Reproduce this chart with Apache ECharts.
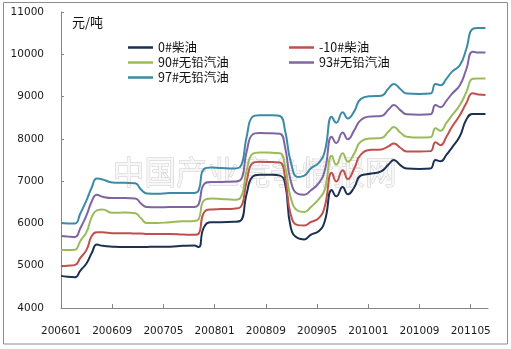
<!DOCTYPE html>
<html>
<head>
<meta charset="utf-8">
<script src="https://cdn.jsdelivr.net/npm/echarts@6/dist/echarts.min.js"></script>
<style>
html,body{margin:0;padding:0;background:#fff;}
#chart{width:511px;height:349px;}
</style>
</head>
<body>
<div id="chart"></div>
<script>
// x positions: months since 2006-01
var monthPos = [0, 1, 2.2, 3, 4, 4.8, 5.6, 6.5, 8, 10, 11.6, 12.5, 13.4, 15, 17, 19, 20.8, 21.5, 22.3, 23.5, 25, 27, 28, 29, 29.9, 31, 33, 34.2, 35, 35.9, 37, 38, 39, 40.3, 41.2, 42.3, 43, 44, 44.8, 45.8, 46.8, 48.5, 50, 51.2, 52, 53, 54, 56, 57.7, 58.5, 59.3, 60.2, 61.1, 62.3, 63.3, 64.3, 65.2, 66.3];
var tickLabels = ['200601','200609','200705','200801','200809','200905','201001','201009','201105'];
var seriesNames = ['0#柴油','-10#柴油','90#无铅汽油','93#无铅汽油','97#无铅汽油'];

var diesel0 = [4760,4740,4730,4880,5060,5300,5500,5470,5450,5440,5440,5440,5445,5450,5450,5470,5480,5440,5900,6030,6030,6040,6060,6700,7100,7150,7150,7130,6950,5900,5650,5620,5730,5820,6050,6790,6640,6860,6690,6850,7130,7180,7230,7400,7500,7380,7300,7290,7300,7500,7470,7620,7800,8060,8450,8590,8590,8590];
var dieselM10 = [4990,5000,5020,5180,5380,5700,5790,5790,5770,5770,5760,5760,5750,5750,5750,5740,5730,5760,6250,6330,6340,6350,6380,7000,7420,7460,7450,7440,7100,6200,5960,5950,6030,6130,6400,7200,6990,7260,7050,7300,7620,7740,7750,7830,7890,7790,7700,7700,7710,7920,7850,8050,8290,8560,8840,9080,9050,9040];
var gas90 = [5370,5370,5380,5580,5800,6150,6310,6330,6250,6260,6240,6120,6010,6010,6030,6050,6060,6100,6540,6590,6580,6560,6600,7250,7640,7680,7670,7660,7350,6600,6300,6270,6380,6580,6800,7600,7390,7660,7460,7650,7930,8010,8020,8180,8280,8150,8050,8030,8040,8250,8190,8380,8560,8800,9100,9420,9430,9430];
var gas93 = [5700,5690,5680,5880,6200,6520,6680,6630,6600,6600,6590,6470,6390,6380,6390,6390,6390,6450,6920,6980,6980,6990,7020,7700,8100,8140,8130,8120,7800,7000,6700,6680,6780,6960,7250,8050,7900,8150,7990,8200,8440,8530,8540,8700,8800,8680,8580,8570,8580,8800,8750,8900,9070,9270,9640,10060,10040,10040];
var gas97 = [6010,6000,6000,6230,6550,6850,7060,7040,6970,6960,6950,6800,6710,6700,6720,6720,6720,6780,7280,7320,7310,7300,7340,8050,8520,8560,8560,8540,8200,7450,7100,7130,7300,7440,7700,8520,8380,8630,8480,8650,8940,9010,9020,9200,9300,9180,9070,9060,9070,9300,9270,9420,9590,9740,10120,10600,10620,10620];

var colors = ['#1c3152','#c0504d','#9bbb59','#8064a2','#3b8ba6'];
var allValues = [diesel0, dieselM10, gas90, gas93, gas97];

var chart = echarts.init(document.getElementById('chart'), null, {renderer:'canvas'});
var tickVals = tickLabels.map(function(_, i){ return i * 8; });
var axisColor = '#868686';
var lblFont = 'DejaVu Sans';

var series = seriesNames.map(function(name, k){
  return {
    name: name,
    type: 'line',
    smooth: 0.5,
    showSymbol: false,
    symbol: 'none',
    z: 3,
    lineStyle: {width: 2, color: colors[k]},
    itemStyle: {color: colors[k]},
    data: monthPos.map(function(m, i){ return [m, allValues[k][i]]; })
  };
});

chart.setOption({
  animation: false,
  backgroundColor: '#ffffff',
  grid: {left: 61, right: 23, top: 12, bottom: 41, containLabel: false},
  legend: [
    {
      data: ['0#柴油','90#无铅汽油','97#无铅汽油'],
      orient: 'vertical', left: 123, top: 35, itemGap: 0,
      itemWidth: 25, itemHeight: 2.5, icon: 'rect',
      textStyle: {fontFamily: 'Noto Sans CJK SC', fontSize: 12.5, color: '#111', lineHeight: 15}
    },
    {
      data: ['-10#柴油','93#无铅汽油'],
      orient: 'vertical', left: 284, top: 35, itemGap: 0,
      itemWidth: 25, itemHeight: 2.5, icon: 'rect',
      textStyle: {fontFamily: 'Noto Sans CJK SC', fontSize: 12.5, color: '#111', lineHeight: 15}
    }
  ],
  xAxis: {
    type: 'value', min: 0, max: 66.7, interval: 8,
    axisLine: {show: true, lineStyle: {color: axisColor, width: 1}},
    axisTick: {show: true, inside: true, length: 4, lineStyle: {color: axisColor}, customValues: tickVals},
    axisLabel: {
      customValues: tickVals,
      margin: 18, color: '#1a1a1a', fontFamily: lblFont, fontSize: 10.5,
      formatter: function(v){ var i = Math.round(v / 8); return (Math.abs(v - i*8) < 1e-6 && tickLabels[i]) ? tickLabels[i] : ''; }
    },
    splitLine: {show: false}
  },
  yAxis: {
    type: 'value', min: 4000, max: 11000, interval: 1000,
    axisLine: {show: true, lineStyle: {color: axisColor, width: 1}},
    axisTick: {show: true, inside: true, length: 3, lineStyle: {color: axisColor}},
    axisLabel: {margin: 17, color: '#1a1a1a', fontFamily: lblFont, fontSize: 10.5,
      formatter: function(v){ return String(v); }},
    splitLine: {show: false}
  },
  graphic: [
    {type: 'rect', silent: true, z: 100, shape: {x: 3.5, y: 2.5, width: 504, height: 341.5},
     style: {fill: 'none', stroke: '#8c8c8c', lineWidth: 1}},
    {type: 'text', silent: true, z: 100, x: 72, y: 16,
     style: {text: '元/吨', fontFamily: 'Noto Sans CJK SC', fontSize: 13, fill: '#111'}},
    {type: 'text', silent: true, z: 0, x: 113, y: 172,
     style: {text: '中国产业竞争情报网', fontFamily: 'Noto Sans CJK SC', fontSize: 31.5, fontWeight: 'normal',
             fill: '#f7f7f7', stroke: '#cdcdcd', lineWidth: 1, textVerticalAlign: 'middle'}}
  ],
  series: series
});
</script>
</body>
</html>
